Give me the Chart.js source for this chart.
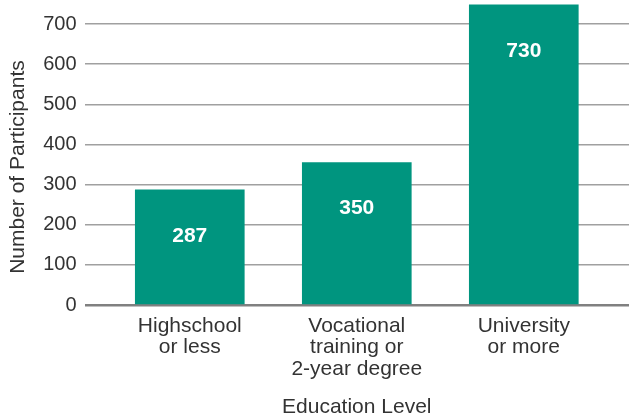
<!DOCTYPE html>
<html lang="en">
<head>
    <meta charset="UTF-8">
    <title>Education Level</title>
    <script src="https://cdn.jsdelivr.net/npm/chart.js"></script>
    <style>
        body {
            margin: 0;
            background: #fff;
        }
        .chart-container {
            width: 629px;
            height: 418px;
        }
    </style>
</head>
<body>
    <div class="chart-container">
        <canvas id="eduChart" width="629" height="418"></canvas>
    </div>

    <script>
        // categories (multi-line labels)
        const categories = [
            ['Highschool', 'or less'],
            ['Vocational', 'training or', '2-year degree'],
            ['University', 'or more']
        ];
        // bar heights as drawn in the picture
        const barValues = [287, 355, 748];
        // numbers printed inside the bars
        const barLabels = ['287', '350', '730'];
        const yTicks = [0, 100, 200, 300, 400, 500, 600, 700];

        const fontFamily = '"Liberation Sans", Arial, Helvetica, sans-serif';
        const teal = '#00957f';

        // white number inside each bar
        const insideLabels = {
            id: 'insideLabels',
            afterDatasetsDraw(chart) {
                const ctx = chart.ctx;
                const meta = chart.getDatasetMeta(0);
                ctx.save();
                ctx.fillStyle = '#fff';
                ctx.font = 'bold 21px ' + fontFamily;
                ctx.textAlign = 'center';
                ctx.textBaseline = 'middle';
                meta.data.forEach((bar, i) => {
                    ctx.fillText(barLabels[i], bar.x, bar.y + 46);
                });
                ctx.restore();
            }
        };

        const ctx = document.getElementById('eduChart').getContext('2d');
        new Chart(ctx, {
            type: 'bar',
            data: {
                datasets: [{
                    data: categories.map((c, i) => ({ x: i, y: barValues[i] })),
                    backgroundColor: teal,
                    borderWidth: 0,
                    barThickness: 109,
                    clip: false
                }]
            },
            options: {
                responsive: false,
                animation: false,
                layout: { padding: { top: 0, right: 0, bottom: 0, left: 6 } },
                plugins: {
                    legend: { display: false },
                    tooltip: { enabled: false }
                },
                scales: {
                    x: {
                        type: 'linear',
                        offset: false,
                        min: -0.63,
                        max: 2.63,
                        afterBuildTicks(axis) {
                            axis.ticks = categories.map((c, i) => ({ value: i }));
                        },
                        ticks: {
                            callback: (v) => categories[v],
                            color: '#333',
                            font: { family: fontFamily, size: 21, lineHeight: 1.03 },
                            padding: 10,
                            maxRotation: 0,
                            autoSkip: false
                        },
                        grid: { display: false, drawTicks: false },
                        border: { display: false },
                        title: {
                            display: true,
                            text: 'Education Level',
                            color: '#333',
                            font: { family: fontFamily, size: 21, lineHeight: 1.0 },
                            padding: { top: 7, bottom: 0 }
                        }
                    },
                    y: {
                        min: 0,
                        max: 740,
                        afterBuildTicks(axis) {
                            axis.ticks = yTicks.map(v => ({ value: v }));
                        },
                        ticks: {
                            color: '#333',
                            font: { family: fontFamily, size: 20, lineHeight: 0 },
                            padding: 8
                        },
                        grid: {
                            drawTicks: false,
                            color: (c) => c.tick && c.tick.value === 0 ? '#808080' : '#a0a0a0',
                            lineWidth: (c) => c.tick && c.tick.value === 0 ? 2.5 : 1.5
                        },
                        border: { display: false },
                        title: {
                            display: true,
                            // trailing spaces nudge the centred title down a little
                            text: 'Number of Participants\u2002\u2002',
                            color: '#333',
                            font: { family: fontFamily, size: 21 },
                            padding: { top: 0, bottom: 4 }
                        }
                    }
                }
            },
            plugins: [insideLabels]
        });
    </script>
</body>
</html>
